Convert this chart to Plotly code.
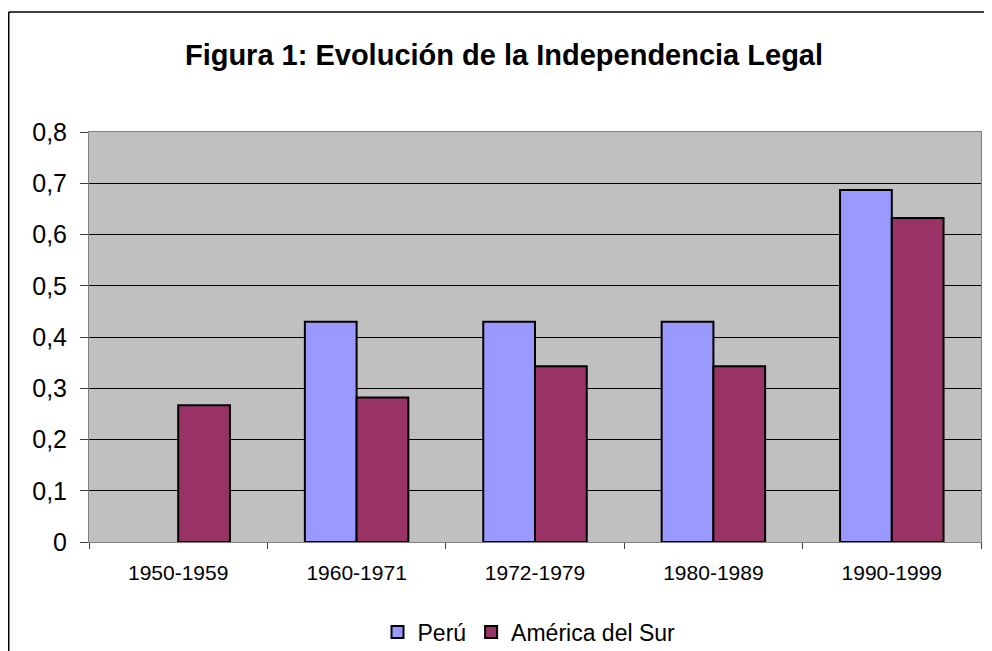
import plotly.graph_objects as go

# Datos de la figura
periodos = ['1950-1959', '1960-1971', '1972-1979', '1980-1989', '1990-1999']
peru = [None, 0.43, 0.43, 0.43, 0.687]
america_sur = [0.267, 0.282, 0.343, 0.343, 0.632]

fuente = 'Liberation Sans, Arial, sans-serif'

# La página tiene 8px de margen en el body: se compensa el tamaño
ancho, alto = 984, 643
izq, der, arriba, abajo = 81, 11, 124, 109
alto_plot = alto - arriba - abajo
ancho_plot = ancho - izq - der

fig = go.Figure()

fig.add_trace(go.Bar(
    x=periodos,
    y=peru,
    name='Perú',
    marker=dict(color='#9999FF', line=dict(color='#000000', width=2))
))

fig.add_trace(go.Bar(
    x=periodos,
    y=america_sur,
    name='América del Sur',
    marker=dict(color='#993366', line=dict(color='#000000', width=2))
))

fig.update_layout(
    width=ancho,
    height=alto,
    margin=dict(l=izq, r=der, t=arriba, b=abajo),
    paper_bgcolor='white',
    plot_bgcolor='#C0C0C0',
    separators=',.',
    font=dict(family=fuente, color='#000000'),
    title=dict(
        text='<b>Figura 1: Evolución de la Independencia Legal</b>',
        x=496 / ancho, xref='container', xanchor='center',
        y=1 - 47 / alto, yref='container', yanchor='middle',
        font=dict(size=29, family=fuente, color='#000000')
    ),
    barmode='group',
    bargap=0.42,
    bargroupgap=0,
    xaxis=dict(
        showgrid=False,
        showline=True, linecolor='#808080', linewidth=1, mirror=True,
        ticks='outside', tickson='boundaries', ticklen=6, tickcolor='#404040',
        ticklabelstandoff=12,
        tickfont=dict(size=21, family=fuente, color='#000000')
    ),
    yaxis=dict(
        range=[0, 0.8], dtick=0.1,
        showgrid=True, gridcolor='#000000', gridwidth=1,
        zeroline=False,
        showline=True, linecolor='#808080', linewidth=1, mirror=True,
        ticks='outside', ticklen=8, tickcolor='#404040',
        ticklabelstandoff=8,
        tickfont=dict(size=25, family=fuente, color='#000000')
    ),
    legend=dict(
        orientation='h',
        xref='container', x=521 / ancho, xanchor='center',
        yref='container', y=1 - 624 / alto, yanchor='middle',
        font=dict(size=23, family=fuente, color='#000000'),
        itemwidth=30,
        traceorder='normal'
    ),
    showlegend=True
)

# Marco exterior del gráfico (bordes izquierdo y superior)
x_marco = (0.75 - izq) / ancho_plot
y_marco = (alto - abajo - 4) / alto_plot
fig.add_shape(type='line', xref='paper', yref='paper',
              x0=x_marco, x1=x_marco, y0=-0.5, y1=y_marco,
              line=dict(color='#000000', width=1.5))
fig.add_shape(type='line', xref='paper', yref='paper',
              x0=x_marco, x1=1.1, y0=y_marco, y1=y_marco,
              line=dict(color='#000000', width=1.5))

fig.write_html('out.html')
